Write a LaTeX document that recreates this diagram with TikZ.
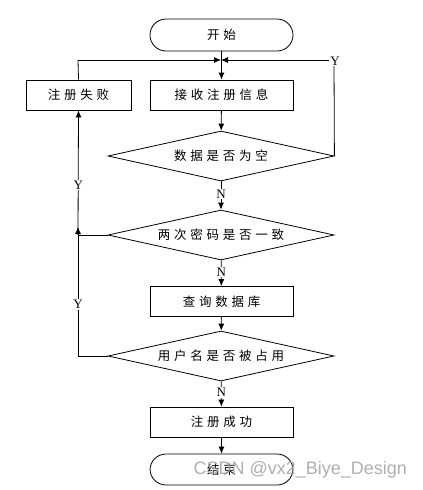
\documentclass[tikz,border=0pt]{standalone}
\usepackage{fontspec}
\setmainfont{Liberation Serif}
\newfontfamily\cjk[LetterSpace=30]{Noto Sans CJK SC}
\newfontfamily\wmfont{Liberation Sans}
\usetikzlibrary{shapes.geometric,arrows.meta}
\begin{document}
\begin{tikzpicture}[x=1pt,y=-1pt,
  every node/.style={font=\cjk\fontsize{12.5}{14}\selectfont},
  flowline/.style={line width=0.8pt},
  arr/.style={flowline,-{Latex[length=7pt,width=6pt]}},
  term/.style={draw,line width=0.8pt,rounded corners=16pt,minimum width=143pt,minimum height=32pt,inner sep=0pt},
  proc/.style={draw,line width=0.8pt,minimum width=143pt,minimum height=30pt,inner sep=0pt},
  decis/.style={draw,line width=0.8pt,diamond,aspect=4.52,minimum width=226pt,minimum height=50pt,inner sep=0pt},
  yn/.style={fill=white,inner sep=1pt,font=\fontsize{13}{14}\selectfont}]
\useasboundingbox (0,0) rectangle (423,490);
\node[term] (start) at (221.5,35) {开始};
\node[proc] (recv) at (221.5,95) {接收注册信息};
\node[proc,minimum width=105pt] (fail) at (78.5,95) {注册失败};
\node[decis] (d1) at (221,156) {数据是否为空};
\node[decis] (d2) at (221,235) {两次密码是否一致};
\node[proc] (query) at (221.5,301.5) {查询数据库};
\node[decis] (d3) at (221,356) {用户名是否被占用};
\node[proc] (ok) at (221.5,422) {注册成功};
\node[term,minimum height=31pt] (end) at (221.5,469.5) {结束};
\coordinate (j) at (221,60);
\coordinate (jr) at (334,60);
\coordinate (jl) at (78,60);
\coordinate (l2) at (78,235);
\coordinate (l3) at (78,356);
\coordinate (l3t) at (78,227);
% main flow
\draw[arr] (start) -- (recv);
\draw[arr] (recv) -- (d1);
\draw[arr] (d1) -- node[yn,pos=0.45] (n1) {N} (d2);
\draw[arr] (d2) -- node[yn,pos=0.45] (n2) {N} (query);
\draw[arr] (query) -- (d3);
\draw[arr] (d3) -- node[yn,pos=0.45] (n3) {N} (ok);
\draw[arr] (ok) -- (end);
% loops
\draw[flowline] (d1.east) -- (jr);
\draw[arr] (jr) -- (j);
\node[yn] (y1) at (335,61) {Y};
\draw[flowline] (fail.north) -- (jl);
\draw[arr] (jl) -- (j);
\draw[flowline] (d2.west) -- (l2);
\draw[arr] (l2) -- node[yn,pos=0.4] (y2) {Y} (fail.south);
\draw[flowline] (d3.west) -- (l3);
\draw[arr] (l3) -- node[yn,pos=0.4] (y3) {Y} (l3t);
\node[font=\wmfont\fontsize{18}{20}\selectfont,text=black!35,anchor=west,opacity=0.9] (wm) at (190,470) {CSDN @vx2\_Biye\_Design};
\end{tikzpicture}
\end{document}
